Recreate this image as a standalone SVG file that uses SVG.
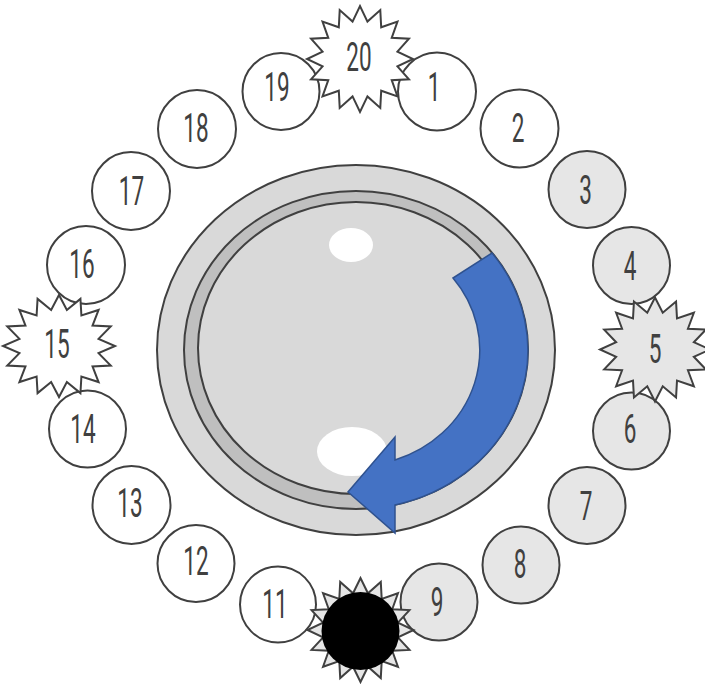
<svg xmlns="http://www.w3.org/2000/svg" xmlns:xlink="http://www.w3.org/1999/xlink" width="705" height="684" viewBox="0 0 705 684">
<style>
.c{stroke:#404040;stroke-width:2}
.w{fill:#ffffff}
.g{fill:#e6e6e6}
.t{font-family:Roboto,"Liberation Sans","DejaVu Sans",sans-serif;font-weight:400;font-size:41px;fill:#404040;text-anchor:middle}
</style>
<defs>
<polygon id="star16" vector-effect="non-scaling-stroke" points="100,0 70.62,14.05 92.39,38.27 59.87,40.00 70.71,70.71 40.00,59.87 38.27,92.39 14.05,70.62 0,100 -14.05,70.62 -38.27,92.39 -40.00,59.87 -70.71,70.71 -59.87,40.00 -92.39,38.27 -70.62,14.05 -100,0 -70.62,-14.05 -92.39,-38.27 -59.87,-40.00 -70.71,-70.71 -40.00,-59.87 -38.27,-92.39 -14.05,-70.62 0,-100 14.05,-70.62 38.27,-92.39 40.00,-59.87 70.71,-70.71 59.87,-40.00 92.39,-38.27 70.62,-14.05"/>
</defs>
<rect width="705" height="684" fill="#ffffff"/>
<g id="dial">
<ellipse cx="356" cy="350" rx="199" ry="185" fill="#d9d9d9" class="c"/>
<ellipse cx="356" cy="350" rx="172" ry="159" fill="#bfbfbf" class="c"/>
<ellipse cx="356" cy="348" rx="158" ry="146" fill="#d9d9d9" class="c"/>
<ellipse cx="351" cy="245" rx="22" ry="17" fill="#ffffff"/>
<ellipse cx="352" cy="451.5" rx="35" ry="24.5" fill="#ffffff"/>
</g>
<g id="arrow">
<path d="M492,253 A172 159 0 0 1 395,505 L395,533 L348,492 L395,437 L395,460 A124 116 0 0 0 453,278 Z" fill="#4472c4" stroke="#2f528f" stroke-width="1.5"/>
</g>
<g id="n1"><circle cx="437" cy="91.5" r="39" class="c w"/><text class="t" transform="matrix(0.55 0 0 1 434 101)">1</text></g>
<g id="n2"><circle cx="519.5" cy="128.5" r="39" class="c w"/><text class="t" transform="matrix(0.55 0 0 1 518 142)">2</text></g>
<g id="n3"><circle cx="587" cy="189.5" r="38.5" class="c g"/><text class="t" transform="matrix(0.55 0 0 1 585.5 204)">3</text></g>
<g id="n4"><circle cx="631.5" cy="265.5" r="38.5" class="c g"/><text class="t" transform="matrix(0.55 0 0 1 630 280)">4</text></g>
<g id="n6"><circle cx="631.5" cy="431" r="38.5" class="c g"/><text class="t" transform="matrix(0.55 0 0 1 630 443)">6</text></g>
<g id="n5"><use xlink:href="#star16" href="#star16" transform="translate(655 349.5) scale(0.55 0.52)" class="c g"/><text class="t" transform="matrix(0.55 0 0 1 655 363)">5</text></g>
<g id="n7"><circle cx="587" cy="505.5" r="38.5" class="c g"/><text class="t" transform="matrix(0.55 0 0 1 586 520)">7</text></g>
<g id="n8"><circle cx="521" cy="565" r="38.5" class="c g"/><text class="t" transform="matrix(0.55 0 0 1 520 578)">8</text></g>
<g id="n9"><circle cx="439" cy="602" r="38.5" class="c g"/><text class="t" transform="matrix(0.55 0 0 1 437 616)">9</text></g>
<g id="n11"><circle cx="278" cy="604.5" r="38" class="c w"/><text class="t" transform="matrix(0.55 0 0 1 275 618)">11</text></g>
<g id="n10"><use xlink:href="#star16" href="#star16" transform="translate(360.5 630) scale(0.53 0.52)" class="c g"/><circle cx="360.5" cy="631" r="39" fill="#000000"/></g>
<g id="n12"><circle cx="196" cy="563.5" r="38.5" class="c w"/><text class="t" transform="matrix(0.55 0 0 1 196 575)">12</text></g>
<g id="n13"><circle cx="131.5" cy="505" r="39" class="c w"/><text class="t" transform="matrix(0.55 0 0 1 130 517)">13</text></g>
<g id="n14"><circle cx="87.5" cy="429" r="38.5" class="c w"/><text class="t" transform="matrix(0.55 0 0 1 83 443)">14</text></g>
<g id="n16"><circle cx="86" cy="265" r="39" class="c w"/><text class="t" transform="matrix(0.55 0 0 1 82 278)">16</text></g>
<g id="n15"><use xlink:href="#star16" href="#star16" transform="translate(59 346) scale(0.56 0.51)" class="c w"/><text class="t" transform="matrix(0.55 0 0 1 57 358)">15</text></g>
<g id="n17"><circle cx="131" cy="191" r="39" class="c w"/><text class="t" transform="matrix(0.55 0 0 1 131.5 205)">17</text></g>
<g id="n18"><circle cx="197" cy="129" r="39" class="c w"/><text class="t" transform="matrix(0.55 0 0 1 196 142)">18</text></g>
<g id="n19"><circle cx="281" cy="91.5" r="38.5" class="c w"/><text class="t" transform="matrix(0.55 0 0 1 277 101)">19</text></g>
<g id="n20"><use xlink:href="#star16" href="#star16" transform="translate(360 59) scale(0.53 0.53)" class="c w"/><text class="t" transform="matrix(0.55 0 0 1 359 71)">20</text></g>
<g id="connectors"></g>
</svg>
